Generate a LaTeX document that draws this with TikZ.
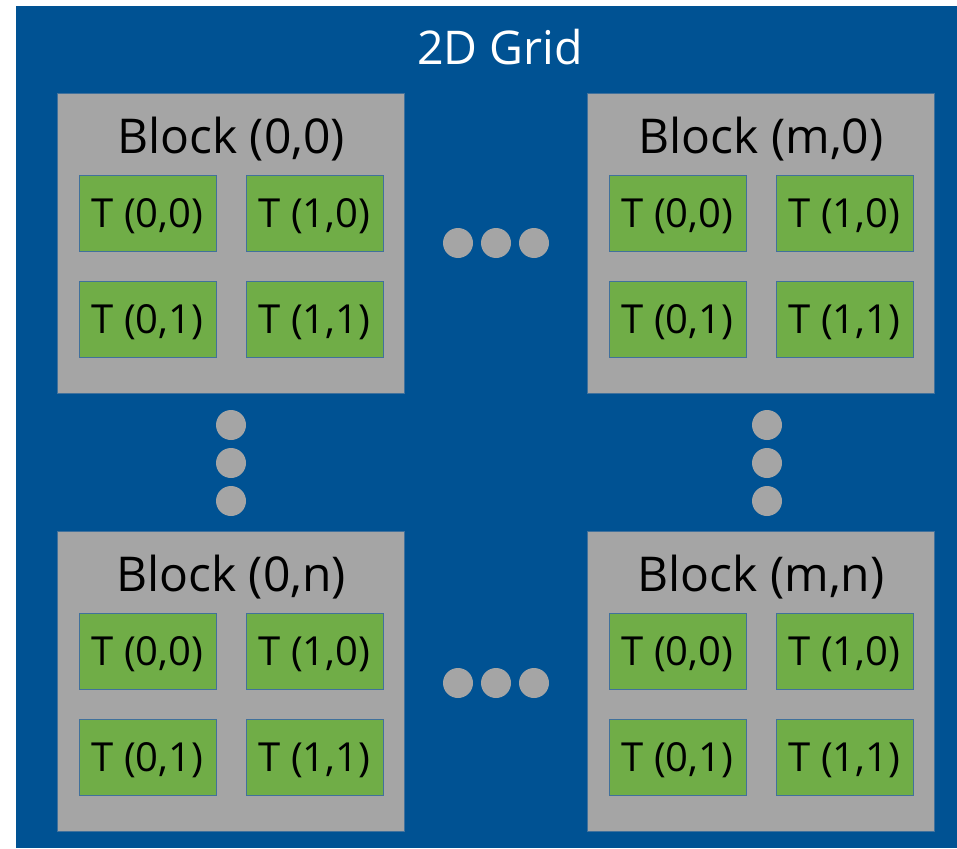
\documentclass[tikz,border=0pt]{standalone}
\usepackage{fontspec}
\setmainfont{Open Sans}
\definecolor{gridblue}{RGB}{0,82,147}
\definecolor{blockgray}{RGB}{165,165,165}
\definecolor{thrgreen}{RGB}{112,173,71}
\definecolor{edgeblue}{RGB}{65,113,156}
\tikzset{
  gridbg/.style={fill=gridblue, draw=none},
  blockbox/.style={fill=blockgray, draw=edgeblue, line width=0.8pt, minimum width=347pt, minimum height=300pt, inner sep=0pt},
  thrbox/.style={fill=thrgreen, draw=edgeblue, line width=0.8pt, minimum width=137pt, minimum height=76pt, inner sep=0pt, text height=29pt, text depth=0pt, font=\fontsize{40}{48}\selectfont},
  blocktitle/.style={anchor=base, inner sep=0pt, font=\fontsize{48}{58}\selectfont},
  gridtitle/.style={anchor=base, inner sep=0pt, text=white, font=\fontsize{46.5}{56}\selectfont},
  ellip/.style={circle, fill=blockgray, draw=none, minimum size=30pt, inner sep=0pt}
}
\begin{document}
\begin{tikzpicture}[x=1pt,y=-1pt]
\useasboundingbox (0,0) rectangle (957,848);
\fill[white] (0,0) rectangle (957,848);
\path[gridbg] (16,6) rectangle (957,848);
\node[gridtitle] (title) at (500,65) {2D Grid};
\foreach \nm/\lab/\dx/\dy in {b00/{(0,0)}/0/0, bm0/{(m,0)}/530/0, b0n/{(0,n)}/0/438, bmn/{(m,n)}/530/438}{
  \node[blockbox] (\nm) at (230.5+\dx,243+\dy) {};
  \node[blocktitle] (\nm-title) at (231+\dx,153+\dy) {Block \lab};
  \node[thrbox] (\nm-t00) at (147.5+\dx,213+\dy) {T (0,0)};
  \node[thrbox] (\nm-t10) at (314.5+\dx,213+\dy) {T (1,0)};
  \node[thrbox] (\nm-t01) at (147.5+\dx,319+\dy) {T (0,1)};
  \node[thrbox] (\nm-t11) at (314.5+\dx,319+\dy) {T (1,1)};
}
% horizontal ellipses
\node[ellip] (h1a) at (458,243) {};
\node[ellip] (h1b) at (496,243) {};
\node[ellip] (h1c) at (534,243) {};
\node[ellip] (h2a) at (458,683) {};
\node[ellip] (h2b) at (496,683) {};
\node[ellip] (h2c) at (534,683) {};
% vertical ellipses
\node[ellip] (v1a) at (231,425) {};
\node[ellip] (v1b) at (231,463) {};
\node[ellip] (v1c) at (231,501) {};
\node[ellip] (v2a) at (767,425) {};
\node[ellip] (v2b) at (767,463) {};
\node[ellip] (v2c) at (767,501) {};
\end{tikzpicture}
\end{document}
